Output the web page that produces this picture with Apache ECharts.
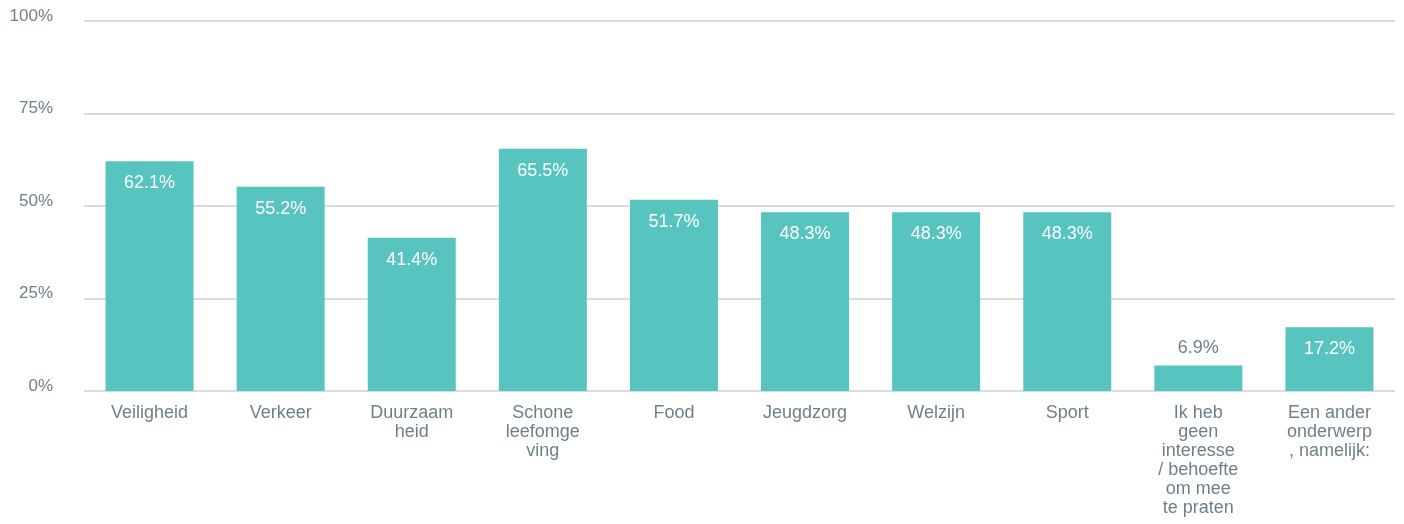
<!DOCTYPE html>
<html>
<head>
<meta charset="utf-8">
<script src="https://cdn.jsdelivr.net/npm/echarts@6/dist/echarts.min.js"></script>
<style>
  html, body { margin: 0; padding: 0; background: #fff; }
  #chart { width: 1404px; height: 524px; }
</style>
</head>
<body>
<div id="chart"></div>
<script>
// tick labels as they are wrapped in the picture
var categories = [
  'Veiligheid',
  'Verkeer',
  'Duurzaam\nheid',
  'Schone\nleefomge\nving',
  'Food',
  'Jeugdzorg',
  'Welzijn',
  'Sport',
  'Ik heb\ngeen\ninteresse\n/ behoefte\nom mee\nte praten',
  'Een ander\nonderwerp\n, namelijk:'
]
var values = [62.1, 55.2, 41.4, 65.5, 51.7, 48.3, 48.3, 48.3, 6.9, 17.2]
var yTicks = [0, 25, 50, 75, 100]

var textColor = '#6f7f8a'
var barColor = '#57c4c0'

var chart = echarts.init(document.getElementById('chart'))

chart.setOption({
  animation: false,
  grid: {
    left: 84,
    right: 9,
    top: 21,
    bottom: 133
  },
  xAxis: {
    type: 'category',
    data: categories,
    axisTick: { show: false },
    axisLine: { show: false },
    axisLabel: {
      interval: 0,
      margin: 13,
      color: textColor,
      fontFamily: 'Liberation Sans',
      fontSize: 18,
      lineHeight: 19
    }
  },
  yAxis: {
    type: 'value',
    min: yTicks[0],
    max: yTicks[yTicks.length - 1],
    interval: 25,
    axisLine: { show: false },
    axisTick: { show: false },
    axisLabel: {
      margin: 31,
      color: textColor,
      fontFamily: 'Liberation Sans',
      fontSize: 17,
      verticalAlign: 'bottom',
      lineHeight: 10,
      formatter: '{value}%'
    },
    splitLine: {
      lineStyle: { color: '#d0d0d0', width: 1.5 }
    }
  },
  series: [
    {
      type: 'bar',
      barWidth: 88,
      data: values.map(function (v) {
        var small = v < 10
        return {
          value: v,
          label: {
            position: small ? 'top' : 'insideTop',
            distance: small ? 8 : 13,
            color: small ? textColor : '#ffffff'
          }
        }
      }),
      itemStyle: { color: barColor },
      label: {
        show: true,
        fontFamily: 'Liberation Sans',
        fontSize: 18,
        formatter: function (p) { return p.value.toFixed(1) + '%' }
      }
    }
  ]
})
</script>
</body>
</html>
